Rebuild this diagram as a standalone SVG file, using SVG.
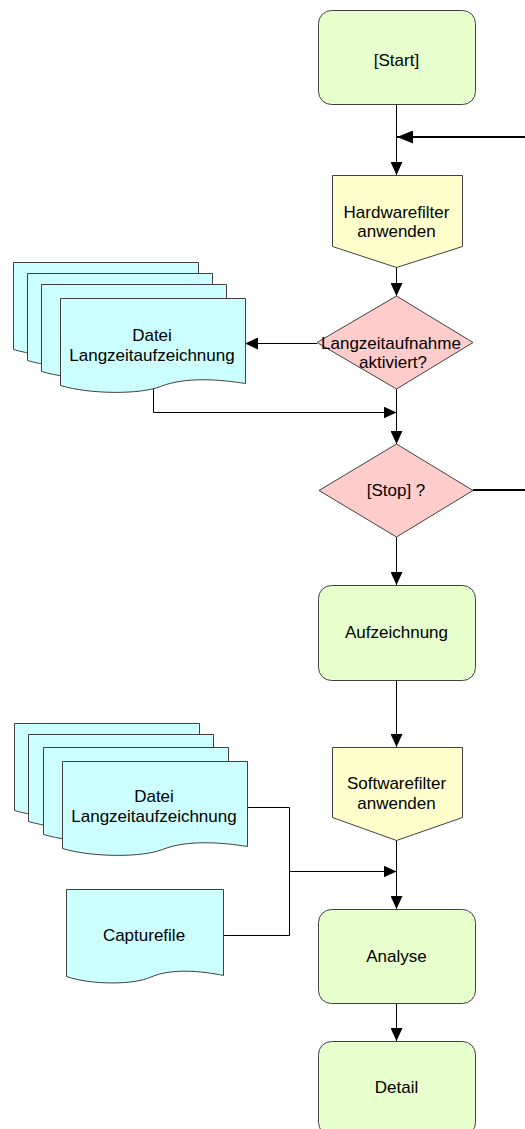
<svg xmlns="http://www.w3.org/2000/svg" width="525" height="1129" viewBox="0 0 525 1129">
<style>
.t{font-family:"Liberation Sans",Arial,sans-serif;font-size:17px;fill:#000;text-anchor:middle}
.g{fill:#E6FFCC;stroke:#404040;stroke-width:1}
.y{fill:#FFFFCC;stroke:#404040;stroke-width:1}
.p{fill:#FFCCCC;stroke:#404040;stroke-width:1}
.c{fill:#CCFFFF;stroke:#404040;stroke-width:1}
.l{fill:none;stroke:#000;stroke-width:1}
.L{fill:none;stroke:#000;stroke-width:2}
</style>
<defs>
<marker id="arr" viewBox="0 0 13 12" markerWidth="13" markerHeight="12" refX="13" refY="6" orient="auto" markerUnits="userSpaceOnUse"><path d="M0,0 L13,6 L0,12 Z" fill="#000"/></marker>
<marker id="arrB" viewBox="0 0 16 13" markerWidth="16" markerHeight="13" refX="16" refY="6.5" orient="auto" markerUnits="userSpaceOnUse"><path d="M0,0 L16,6.5 L0,13 Z" fill="#000"/></marker>
<path id="doc" d="M0,0 H185 V85 C160,81 125,78 100,88 C80,96 30,96 0,87 Z"/>
</defs>
<rect width="525" height="1129" fill="#fff"/>
<g id="connectors">
<line class="l" x1="396.5" y1="104" x2="396.5" y2="175" marker-end="url(#arr)"/>
<line class="L" x1="525" y1="137" x2="397" y2="137" marker-end="url(#arrB)"/>
<line class="l" x1="396.5" y1="267" x2="396.5" y2="296" marker-end="url(#arr)"/>
<line class="l" x1="317" y1="343.5" x2="245" y2="343.5" marker-end="url(#arr)"/>
<line class="l" x1="396.5" y1="389" x2="396.5" y2="444" marker-end="url(#arr)"/>
<polyline class="l" points="153.5,388 153.5,412.5 396.5,412.5" marker-end="url(#arr)"/>
<line class="L" x1="473" y1="490" x2="525" y2="490"/>
<line class="l" x1="396.5" y1="537" x2="396.5" y2="585" marker-end="url(#arr)"/>
<line class="l" x1="396.5" y1="680" x2="396.5" y2="747" marker-end="url(#arr)"/>
<line class="l" x1="396.5" y1="840" x2="396.5" y2="909" marker-end="url(#arr)"/>
<polyline class="l" points="247,807.5 289.5,807.5 289.5,935.5 223,935.5"/>
<polyline class="l" points="289.5,871.5 396.5,871.5" marker-end="url(#arr)"/>
<line class="l" x1="396.5" y1="1003" x2="396.5" y2="1041" marker-end="url(#arr)"/>
</g>
<g id="start">
<rect class="g" x="318.5" y="10.5" width="157" height="94" rx="13"/>
<text class="t" x="396.5" y="66">[Start]</text>
</g>
<g id="hardwarefilter">
<path class="y" d="M332.5,175.5 H462.5 V246.5 L396.5,267.5 L332.5,246.5 Z"/>
<text class="t" x="396.5" y="218">Hardwarefilter</text>
<text class="t" x="396.5" y="237">anwenden</text>
</g>
<g id="langzeit-decision">
<path class="p" d="M396.5,296 L473,342.5 L396.5,389 L317,342.5 Z"/>
<text class="t" x="391" y="349">Langzeitaufnahme</text>
<text class="t" x="393" y="368">aktiviert?</text>
</g>
<g id="datei1">
<use href="#doc" class="c" transform="translate(13.5,262.5)"/>
<use href="#doc" class="c" transform="translate(27.5,273.5)"/>
<use href="#doc" class="c" transform="translate(41.5,284.5)"/>
<use href="#doc" class="c" transform="translate(60.5,298.5)"/>
<text class="t" x="152" y="341">Datei</text>
<text class="t" x="152" y="361">Langzeitaufzeichnung</text>
</g>
<g id="stop">
<path class="p" d="M396.5,444 L473,490.5 L396.5,537 L319,490.5 Z"/>
<text class="t" x="396" y="496">[Stop] ?</text>
</g>
<g id="aufzeichnung">
<rect class="g" x="318.5" y="585.5" width="157" height="95" rx="13"/>
<text class="t" x="396.5" y="638">Aufzeichnung</text>
</g>
<g id="softwarefilter">
<path class="y" d="M332.5,747.5 H462.5 V817.5 L396.5,840.5 L332.5,817.5 Z"/>
<text class="t" x="396.5" y="789">Softwarefilter</text>
<text class="t" x="396.5" y="809">anwenden</text>
</g>
<g id="datei2">
<use href="#doc" class="c" transform="translate(14.5,723.5)"/>
<use href="#doc" class="c" transform="translate(28.5,734.5)"/>
<use href="#doc" class="c" transform="translate(43.5,747.5)"/>
<use href="#doc" class="c" transform="translate(62.5,761.5)"/>
<text class="t" x="154" y="802">Datei</text>
<text class="t" x="154" y="822">Langzeitaufzeichnung</text>
</g>
<g id="capturefile">
<path class="c" d="M66.5,889.5 H223.5 V975.5 C202,971 172,968 151,977 C134,985 91,985 66.5,976.5 Z"/>
<text class="t" x="144" y="941">Capturefile</text>
</g>
<g id="analyse">
<rect class="g" x="318.5" y="909.5" width="157" height="94" rx="13"/>
<text class="t" x="396.5" y="962">Analyse</text>
</g>
<g id="detail">
<rect class="g" x="318.5" y="1041.5" width="157" height="94" rx="13"/>
<text class="t" x="396.5" y="1093">Detail</text>
</g>
</svg>
